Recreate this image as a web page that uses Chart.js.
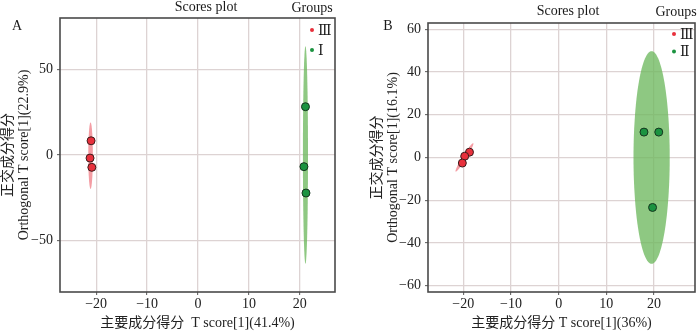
<!DOCTYPE html>
<html>
<head>
<meta charset="utf-8">
<script src="https://cdn.jsdelivr.net/npm/chart.js@4"></script>
<style>
    body { margin: 0; background: #fff; }
    #wrap { position: relative; width: 700px; height: 331px; }
    .panel { position: absolute; top: 0; width: 350px; height: 331px; }
</style>
</head>
<body>
<div id="wrap">
    <div class="panel" style="left:0"><canvas id="chartA" width="350" height="331"></canvas></div>
    <div class="panel" style="left:350px"><canvas id="chartB" width="350" height="331"></canvas></div>
</div>
<script>
// ---- data ----
const groupNamesA = ['Ⅲ', 'Ⅰ'];
const groupNamesB = ['Ⅲ', 'Ⅱ'];

// panel A scores
const a3X = [-21.0, -21.2, -20.85];
const a3Y = [8.3, -1.8, -7.2];
const a1X = [21.1, 20.8, 21.2];
const a1Y = [28.2, -6.8, -22.2];

// panel B scores
const b3X = [-18.7, -19.7, -20.2];
const b3Y = [2.5, 0.6, -2.6];
const b2X = [17.9, 21.0, 19.7];
const b2Y = [11.9, 11.9, -23.4];

// confidence ellipses: [centre x, centre y, axis1 x, axis1 y, axis2 x, axis2 y]
const ellA3 = [-21.1, -0.4, 0, 19.4, 0.45, 0];
const ellA1 = [21.1, 0, 0, 63.5, 0.5, 0];
const ellB3 = [-19.75, 0.05, 1.85, 6.65, 0.35, -0.5];
const ellB2 = [19.5, 0, 0, 49.8, 3.8, 0];

// axis ranges and tick steps
const xRangeA = [-27.1, 26.9], yRangeA = [-80, 80], xStepA = 10, yStepA = 50;
const xRangeB = [-27.4, 28.6], yRangeB = [-63, 63], xStepB = 10, yStepB = 20;

const xTitleA = '主要成分得分  T score[1](41.4%)';
const yTitleA = ['正交成分得分', 'Orthogonal T score[1](22.9%)'];
const xTitleB = '主要成分得分 T score[1](36%)';
const yTitleB = ['正交成分得分', 'Orthogonal T score[1](16.1%)'];

const RED = '#e8303c', GREEN = '#1b9340';
const RED_ELL = 'rgba(240, 115, 125, 0.7)', GREEN_ELL = 'rgba(110, 185, 95, 0.78)';
const FONT = '"Liberation Serif", "Times New Roman", "Noto Sans CJK SC", serif';
const LEGEND_FONT = '"DejaVu Serif", "Liberation Serif", serif';

function toPoints(xs, ys) {
    return xs.map((v, i) => ({ x: v, y: ys[i] }));
}

// draws ellipses, frame and the extra labels of one panel
function makeDecor(cfg) {
    return {
        id: 'decor' + cfg.letter,
        beforeDatasetsDraw(chart) {
            const { ctx, scales: { x, y } } = chart;
            ctx.save();
            cfg.ellipses.forEach(e => {
                const [cx, cy, ax, ay, bx, by] = e.shape;
                ctx.beginPath();
                for (let i = 0; i <= 120; i++) {
                    const t = i / 120 * Math.PI * 2;
                    const px = x.getPixelForValue(cx + ax * Math.cos(t) + bx * Math.sin(t));
                    const py = y.getPixelForValue(cy + ay * Math.cos(t) + by * Math.sin(t));
                    if (i === 0) ctx.moveTo(px, py); else ctx.lineTo(px, py);
                }
                ctx.closePath();
                ctx.fillStyle = e.color;
                ctx.fill();
            });
            ctx.restore();
        },
        afterDatasetsDraw(chart) {
            const { ctx, chartArea: a } = chart;
            ctx.save();
            ctx.strokeStyle = '#4a4a4a';
            ctx.lineWidth = 1.6;
            ctx.strokeRect(a.left, a.top, a.right - a.left, a.bottom - a.top);
            ctx.restore();
        },
        afterDraw(chart) {
            const { ctx } = chart;
            ctx.save();
            ctx.fillStyle = '#1a1a1a';
            ctx.textBaseline = 'middle';
            ctx.textAlign = 'center';
            ctx.font = '14px ' + FONT;
            ctx.fillText('Scores plot', cfg.titlePos[0], cfg.titlePos[1]);
            ctx.fillText('Groups', cfg.groupsPos[0], cfg.groupsPos[1]);
            ctx.fillText(cfg.letter, cfg.letterPos[0], cfg.letterPos[1]);
            // legend
            cfg.legend.forEach((name, i) => {
                const ly = cfg.legendPos[1] + i * cfg.legendGap;
                ctx.beginPath();
                ctx.arc(cfg.legendPos[0], ly, 2, 0, Math.PI * 2);
                ctx.fillStyle = i === 0 ? RED : GREEN;
                ctx.fill();
                ctx.fillStyle = '#1a1a1a';
                ctx.textAlign = 'left';
                ctx.font = '14px ' + LEGEND_FONT;
                ctx.fillText(name, cfg.legendPos[0] + 6, ly + 1);
            });
            ctx.restore();
        }
    };
}

function makeChart(id, cfg) {
    const tickFont = { family: FONT, size: 14 };
    const titleFont = { family: FONT, size: 14, lineHeight: 1.1 };
    const grid = { color: '#ddd3d3', lineWidth: 1.3, tickLength: 3, tickColor: '#555', tickWidth: 1 };
    return new Chart(document.getElementById(id), {
        type: 'scatter',
        data: {
            datasets: [
                { label: cfg.legend[0], data: toPoints(cfg.redX, cfg.redY), backgroundColor: RED, borderColor: '#3b1b1b', borderWidth: 1, pointRadius: 4 },
                { label: cfg.legend[1], data: toPoints(cfg.greenX, cfg.greenY), backgroundColor: GREEN, borderColor: '#14351d', borderWidth: 1, pointRadius: 4 }
            ]
        },
        options: {
            responsive: false,
            animation: false,
            devicePixelRatio: 1,
            layout: { padding: { left: 0, right: cfg.padRight, top: cfg.padTop, bottom: 0 } },
            plugins: { legend: { display: false }, tooltip: { enabled: false } },
            scales: {
                x: {
                    type: 'linear', min: cfg.xRange[0], max: cfg.xRange[1],
                    grid: grid, border: { display: false },
                    ticks: { stepSize: cfg.xStep, includeBounds: false, padding: 1, color: '#222', font: tickFont, maxRotation: 0,
                        callback: v => String(v).replace('-', '\u2212') },
                    title: { display: true, text: cfg.xTitle, color: '#222', font: titleFont, padding: { top: 0, bottom: 0 } },
                    afterFit: s => { s.height = 39; }
                },
                y: {
                    type: 'linear', min: cfg.yRange[0], max: cfg.yRange[1],
                    grid: grid, border: { display: false },
                    ticks: { stepSize: cfg.yStep, includeBounds: false, padding: 4, color: '#222', font: tickFont,
                        callback: v => String(v).replace('-', '\u2212') },
                    title: { display: true, text: cfg.yTitle, color: '#222', font: titleFont, padding: { top: cfg.yTitlePad, bottom: 0 } },
                    afterFit: s => { s.width = cfg.yWidth; }
                }
            }
        },
        plugins: [makeDecor(cfg)]
    });
}

makeChart('chartA', {
    letter: 'A', legend: groupNamesA,
    redX: a3X, redY: a3Y, greenX: a1X, greenY: a1Y,
    ellipses: [{ shape: ellA3, color: RED_ELL }, { shape: ellA1, color: GREEN_ELL }],
    xRange: xRangeA, yRange: yRangeA, xStep: xStepA, yStep: yStepA,
    xTitle: xTitleA, yTitle: yTitleA,
    padTop: 18, padRight: 15, yWidth: 60, yTitlePad: 1,
    titlePos: [206, 7], groupsPos: [312, 8], letterPos: [17, 26],
    legendPos: [312, 30], legendGap: 20
});

makeChart('chartB', {
    letter: 'B', legend: groupNamesB,
    redX: b3X, redY: b3Y, greenX: b2X, greenY: b2Y,
    ellipses: [{ shape: ellB3, color: RED_ELL }, { shape: ellB2, color: GREEN_ELL }],
    xRange: xRangeB, yRange: yRangeB, xStep: xStepB, yStep: yStepB,
    xTitle: xTitleB, yTitle: yTitleB,
    padTop: 23, padRight: 3, yWidth: 78, yTitlePad: 20,
    titlePos: [218, 11], groupsPos: [326, 12], letterPos: [38, 26],
    legendPos: [324, 34], legendGap: 17.5
});
</script>
</body>
</html>
